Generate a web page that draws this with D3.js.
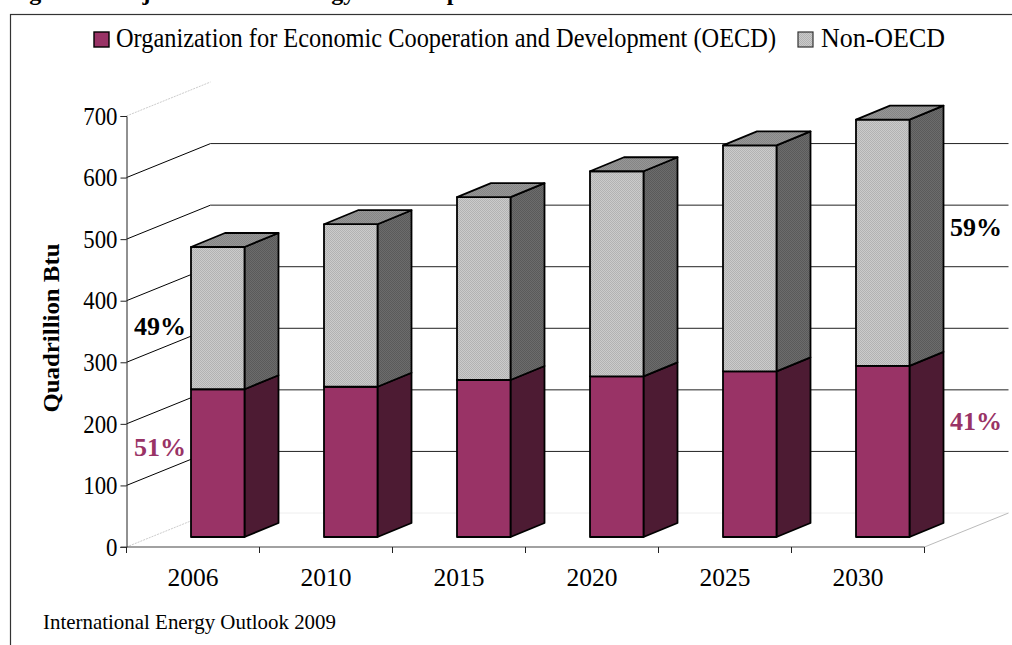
<!DOCTYPE html>
<html><head><meta charset="utf-8">
<script src="https://cdnjs.cloudflare.com/ajax/libs/d3/7.8.5/d3.min.js"></script>
<style>html,body{margin:0;padding:0;background:#fff;overflow:hidden}svg{display:block}text{font-family:"Liberation Serif",serif;fill:#000}</style>
</head><body><svg id="c" width="1012" height="645"></svg>
<script>
const categories=["2006","2010","2015","2020","2025","2030"];
const oecd=[240,244,255,261,269,278];
const nonOecd=[231,264,297,333,367,400];
const ticks=[0,100,200,300,400,500,600,700];
const shares=[{t:"49%",x:134,y:335,c:"#000"},{t:"51%",x:134,y:456,c:"#993366"},{t:"59%",x:950,y:236,c:"#000"},{t:"41%",x:950,y:430,c:"#993366"}];

const svg=d3.select("#c");
const defs=svg.append("defs");
function dither(id,a,b){
  const p=defs.append("pattern").attr("id",id).attr("width",2).attr("height",2).attr("patternUnits","userSpaceOnUse");
  p.append("rect").attr("width",2).attr("height",2).attr("fill",a);
  p.append("path").attr("d","M0,0h1v1h-1zM1,1h1v1h-1z").attr("fill",b);
}
dither("front","#cbcbcb","#b2b2b2");
dither("side","#6c6c6c","#5a5a5a");
dither("top","#979797","#858585");

const y=d3.scaleLinear().domain([0,700]).range([547,116]);
const x=d3.scaleBand().domain(categories).range([126.5,924.5]).padding(0);
const wall={dx:84,dy:-34}, depth={dx:34,dy:-14}, barW=53.5, barOffset=64.5, barLift=-10;
const axisRight=924.5;
const fs=25.5;

// title, clipped by the top of the picture as in the reference
svg.append("text").attr("x",8).attr("y",0).attr("font-weight","bold").attr("font-size",24)
  .text("Figure 1. Projected World Energy Consumption");
svg.append("rect").attr("x",10.5).attr("y",14.5).attr("width",1010).attr("height",640)
  .attr("fill","#fff").attr("stroke","#333").attr("stroke-width",1.2);

// legend
const lg=svg.append("g").attr("font-size",27);
lg.append("rect").attr("x",94).attr("y",32).attr("width",15).attr("height",15).attr("fill","#993366").attr("stroke","#000").attr("stroke-width",1.4);
lg.append("text").attr("x",116).attr("y",47).attr("textLength",660).attr("lengthAdjust","spacingAndGlyphs").text("Organization for Economic Cooperation and Development (OECD)");
lg.append("rect").attr("x",798).attr("y",32).attr("width",15).attr("height",15).attr("fill","url(#front)").attr("stroke","#333").attr("stroke-width",1.2);
lg.append("text").attr("x",821).attr("y",47).attr("textLength",124).attr("lengthAdjust","spacingAndGlyphs").text("Non-OECD");

// walls
const grid=svg.append("g");
ticks.forEach(t=>{
  const yy=y(t), faint=(t===0||t===700);
  grid.append("line").attr("x1",x.range()[0]).attr("y1",yy).attr("x2",x.range()[0]+wall.dx).attr("y2",yy+wall.dy)
    .attr("stroke",faint?"#ccc":"#000").attr("stroke-width",1).attr("stroke-dasharray",faint?"2 1":null);
  if(t!==700) grid.append("line").attr("x1",x.range()[0]+wall.dx).attr("y1",yy+wall.dy).attr("x2",axisRight+wall.dx).attr("y2",yy+wall.dy)
    .attr("stroke",t===0?"#eee":"#222").attr("stroke-width",1);
});
grid.append("line").attr("x1",axisRight).attr("y1",y(0)).attr("x2",axisRight+wall.dx).attr("y2",y(0)+wall.dy).attr("stroke","#bbb");

// bars
const pts=a=>a.map(p=>p.join(",")).join(" ");
function box(g,x0,v0,v1,front,side,top){
  const x1=x0+barW, yb=y(v0)+barLift, yt=y(v1)+barLift, dx=depth.dx, dy=depth.dy;
  const s={stroke:"#000","stroke-width":1.8,"stroke-linejoin":"round"};
  const add=(points,f)=>{const e=g.append("polygon").attr("points",pts(points)).attr("fill",f);Object.entries(s).forEach(([k,v])=>e.attr(k,v));};
  add([[x1,yb],[x1+dx,yb+dy],[x1+dx,yt+dy],[x1,yt]],side);
  add([[x0,yb],[x1,yb],[x1,yt],[x0,yt]],front);
  if(top) add([[x0,yt],[x1,yt],[x1+dx,yt+dy],[x0+dx,yt+dy]],top);
}
const bars=svg.append("g");
categories.forEach((c,i)=>{
  const g=bars.append("g"), x0=x(c)+barOffset;
  box(g,x0,0,oecd[i],"#993366","#4d1b33",null);
  box(g,x0,oecd[i],oecd[i]+nonOecd[i],"url(#front)","url(#side)","url(#top)");
});

// axes
const ya=svg.append("g").attr("transform",`translate(${x.range()[0]},0)`)
  .call(d3.axisLeft(y).tickValues(ticks).tickSize(6).tickPadding(3).tickFormat(d3.format("d")));
ya.selectAll("text").attr("font-size",fs).attr("font-family","Liberation Serif").attr("fill","#000")
  .attr("textLength",d=>String(d).length*11.4).attr("lengthAdjust","spacingAndGlyphs");
ya.select(".domain").attr("stroke","#222");
ya.selectAll("line").attr("stroke","#222");
const xTicks=d3.range(categories.length+1).map(i=>x.range()[0]+i*x.step());
const xa=svg.append("g");
xa.append("line").attr("x1",x.range()[0]-6).attr("x2",axisRight).attr("y1",y(0)).attr("y2",y(0)).attr("stroke","#444").attr("stroke-width",1.2);
xa.selectAll("line.t").data(xTicks).join("line").attr("class","t").attr("x1",d=>d).attr("x2",d=>d).attr("y1",y(0)).attr("y2",y(0)+6).attr("stroke","#222");
xa.selectAll("text").data(categories).join("text").attr("x",d=>x(d)+x.bandwidth()/2).attr("y",586)
  .attr("text-anchor","middle").attr("font-size",fs).text(d=>d);

// axis title
svg.append("text").attr("transform","translate(59,328) rotate(-90)").attr("text-anchor","middle")
  .attr("font-weight","bold").attr("font-size",24).attr("textLength",169).attr("lengthAdjust","spacingAndGlyphs").text("Quadrillion Btu");

// share labels
svg.append("g").selectAll("text").data(shares).join("text").attr("x",d=>d.x).attr("y",d=>d.y)
  .attr("font-weight","bold").attr("font-size",26).style("fill",d=>d.c).text(d=>d.t);

svg.append("text").attr("x",43).attr("y",629).attr("font-size",21).attr("textLength",293).attr("lengthAdjust","spacingAndGlyphs").text("International Energy Outlook 2009");
</script></body></html>
